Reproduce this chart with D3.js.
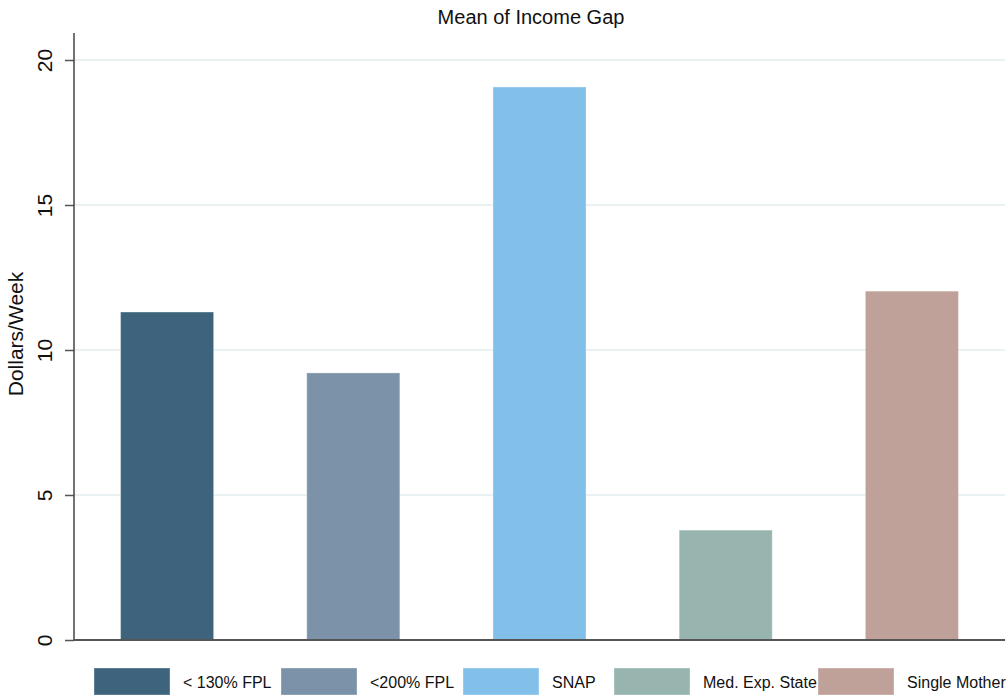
<!DOCTYPE html>
<html>
<head>
<meta charset="utf-8">
<title>Mean of Income Gap</title>
<script src="https://d3js.org/d3.v7.min.js"></script>
<style>
  body { margin: 0; background: #fff; }
  text { font-family: "Liberation Sans", Arial, sans-serif; fill: #111; }
</style>
</head>
<body>
<script>
  // chart data
  var groups = ["< 130% FPL", "<200% FPL", "SNAP", "Med. Exp. State", "Single Mother"];
  var gapValues = [11.31, 9.21, 19.07, 3.79, 12.03];
  var barColors = ["#3e647d", "#7b92a8", "#82bfe9", "#97b5ae", "#bfa19a"];
  var yTicks = [0, 5, 10, 15, 20];

  // legend key left edges (layout)
  var legendX = [94, 281, 463, 614, 818];

  var W = 1007, H = 698;
  var margin = {top: 33, right: 2, bottom: 58, left: 74};

  var svg = d3.select("body").append("svg")
      .attr("width", W)
      .attr("height", H);

  var x = d3.scaleBand()
      .domain(groups)
      .range([margin.left, W - margin.right])
      .paddingInner(0.5)
      .paddingOuter(0.25);

  var y = d3.scaleLinear()
      .domain([0, 20])
      .range([640, 60]);

  // gridlines
  svg.append("g")
    .selectAll("line")
    .data(yTicks.filter(function(d) { return d > 0; }))
    .join("line")
      .attr("x1", margin.left)
      .attr("x2", W - margin.right)
      .attr("y1", function(d) { return y(d); })
      .attr("y2", function(d) { return y(d); })
      .attr("stroke", "#eaf1f3")
      .attr("stroke-width", 2);

  // bars
  svg.append("g")
    .selectAll("rect")
    .data(groups)
    .join("rect")
      .attr("x", function(d) { return x(d); })
      .attr("width", x.bandwidth())
      .attr("y", function(d, i) { return y(gapValues[i]); })
      .attr("height", function(d, i) { return y(0) - y(gapValues[i]); })
      .attr("fill", function(d, i) { return barColors[i]; })
      .attr("stroke", "#ffffff")
      .attr("stroke-opacity", 0.35)
      .attr("stroke-width", 1);

  // y axis
  var yAxis = svg.append("g")
      .attr("transform", "translate(" + margin.left + ",0)")
      .call(d3.axisLeft(y).tickValues(yTicks).tickSize(9).tickFormat(d3.format("d")));
  yAxis.select(".domain").remove();
  yAxis.selectAll(".tick line").attr("stroke", "#555").attr("stroke-width", 1.5);
  yAxis.selectAll(".tick text")
      .attr("font-size", 21)
      .attr("font-family", "Liberation Sans, Arial, sans-serif")
      .attr("fill", "#111")
      .attr("text-anchor", "middle")
      .attr("x", 0)
      .attr("dy", 0)
      .attr("transform", "translate(-30,0) rotate(-90)")
      .attr("y", 0)
      .attr("dominant-baseline", "central");

  svg.append("line")
      .attr("x1", margin.left).attr("x2", margin.left)
      .attr("y1", margin.top).attr("y2", y(0))
      .attr("stroke", "#444").attr("stroke-width", 1.5);

  // x axis baseline
  svg.append("line")
      .attr("x1", margin.left).attr("x2", W - margin.right)
      .attr("y1", y(0)).attr("y2", y(0))
      .attr("stroke", "#555").attr("stroke-width", 2);

  // y axis title
  svg.append("text")
      .attr("transform", "translate(23," + (y(10) - 16) + ") rotate(-90)")
      .attr("text-anchor", "middle")
      .attr("font-size", 21)
      .text("Dollars/Week");

  // title
  svg.append("text")
      .attr("x", 531)
      .attr("y", 24)
      .attr("text-anchor", "middle")
      .attr("font-size", 20)
      .text("Mean of Income Gap");

  // legend
  var legend = svg.append("g");
  groups.forEach(function(g, i) {
    legend.append("rect")
        .attr("x", legendX[i]).attr("y", 668)
        .attr("width", 76).attr("height", 27)
        .attr("fill", barColors[i])
        .attr("stroke", "#ffffff").attr("stroke-opacity", 0.35);
    legend.append("text")
        .attr("x", legendX[i] + 89)
        .attr("y", 688)
        .attr("font-size", 16)
        .text(g);
  });
</script>
</body>
</html>
